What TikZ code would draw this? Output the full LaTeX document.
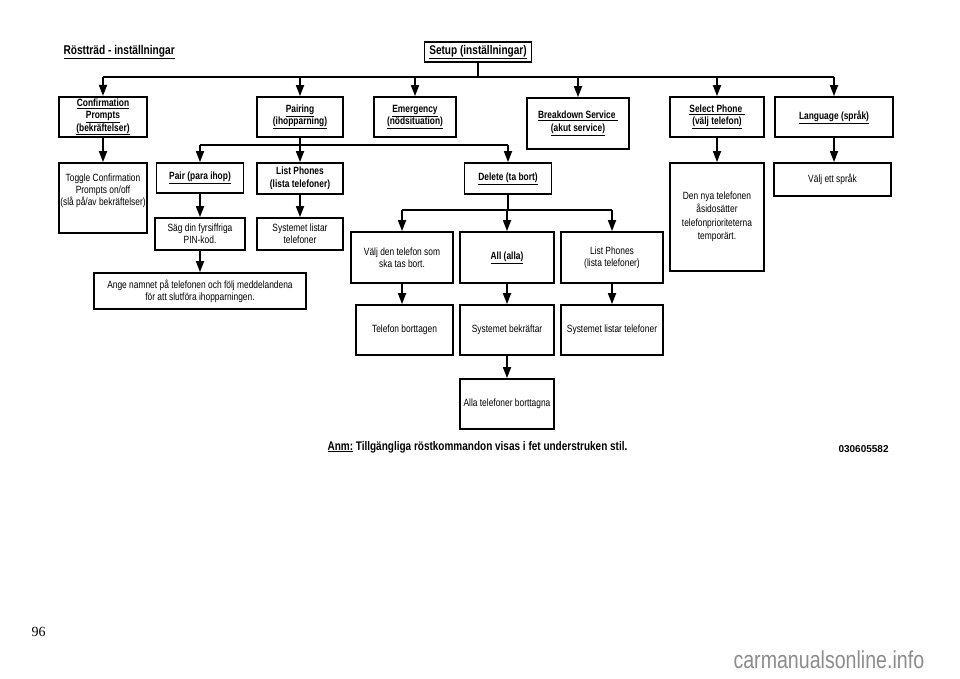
\documentclass[tikz,border=0pt]{standalone}
\usepackage{fontspec}
\setmainfont{Liberation Sans}[FakeStretch=0.8]
\newfontfamily\plainsans{Liberation Sans}
\newfontfamily\pagefont{Liberation Serif}
\usetikzlibrary{arrows.meta}

\tikzset{
	box/.style = {draw, line width = 1.8pt, inner sep = 2pt, align = center,
		font = \fontsize{10.5}{12}\selectfont},
	cmd/.style = {box, font = \fontsize{10.5}{12.5}\selectfont\bfseries},
	link/.style = {line width = 1.7pt},
	arr/.style = {link, -{Triangle[length = 11pt, width = 8pt]}}
}

\begin{document}
\begin{tikzpicture}[x = 1pt, y = -1pt]
				%	page size
				\useasboundingbox (0, 0) rectangle (960, 678);
				
				%	heading
				\node[anchor = west, font = \fontsize{12.7}{15}\selectfont\bfseries] (title) at (60, 52) {\underline{Röstträd - inställningar}};
				\node[cmd, minimum width = 107, minimum height = 20, font = \fontsize{12.6}{15}\selectfont\bfseries] (setup) at (478, 52) {\underline{Setup (inställningar)}};
				
				%	first level
				\node[cmd, minimum width = 88, minimum height = 40, font = \fontsize{10.5}{12.3}\selectfont\bfseries] (confirm) at (103, 117) {\underline{Confirmation}\\\underline{Prompts}\\\underline{(bekräftelser)}};
				\node[cmd, minimum width = 86, minimum height = 40] (pairing) at (300, 117) {\underline{Pairing}\\\underline{(ihopparning)}};
				\node[cmd, minimum width = 82, minimum height = 40] (emergency) at (415, 117) {\underline{Emergency}\\\underline{(nödsituation)}};
				\node[cmd, minimum width = 102, minimum height = 51] (breakdown) at (578, 123.5) {\underline{Breakdown Service\ }\\\underline{(akut service)}};
				\node[cmd, minimum width = 94, minimum height = 40] (selphone) at (717, 117) {\underline{Select Phone\ }\\\underline{(välj telefon)}};
				\node[cmd, minimum width = 118, minimum height = 40] (language) at (834, 117) {\underline{Language (språk)}};
				
				%	bus from setup
				\coordinate (topbus) at (478, 77);
				\draw[link] (setup.south) -- (topbus);
				\draw[link] (confirm.north |- topbus) -- (language.north |- topbus);
				\foreach \n in {confirm, pairing, emergency, breakdown, selphone, language}
					\draw[arr] (\n.north |- topbus) -- (\n.north);
				
				%	confirmation prompts
				\node[box, minimum width = 88, minimum height = 70] (toggle) at (103, 198) {};
				\node[anchor = north, align = center, font = \fontsize{10.5}{12}\selectfont] (togtext) at ([yshift = -8pt]toggle.north) {Toggle Confirmation\\Prompts on/off\\(slå på/av bekräftelser)};
				\draw[arr] (confirm.south) -- (toggle.north);
				
				%	pairing
				\node[cmd, minimum width = 87, minimum height = 30] (pair) at (200, 178) {\underline{Pair (para ihop)}};
				\node[cmd, minimum width = 86, minimum height = 31] (listph) at (300, 178.5) {List Phones\\(lista telefoner)};
				\node[cmd, minimum width = 87, minimum height = 31] (delete) at (508, 178.5) {\underline{Delete (ta bort)}};
				\coordinate (pairbus) at (300, 145);
				\draw[link] (pairing.south) -- (pairbus);
				\draw[link] (pair.north |- pairbus) -- (delete.north |- pairbus);
				\foreach \n in {pair, listph, delete}
					\draw[arr] (\n.north |- pairbus) -- (\n.north);
				
				\node[box, minimum width = 90, minimum height = 32] (pin) at (200, 234) {Säg din fyrsiffriga\\PIN-kod.};
				\node[box, minimum width = 86, minimum height = 32] (sysph) at (300, 234) {Systemet listar\\telefoner};
				\node[box, minimum width = 212, minimum height = 36] (namebox) at (200, 291) {Ange namnet på telefonen och följ meddelandena\\för att slutföra ihopparningen.};
				\draw[arr] (pair.south) -- (pin.north);
				\draw[arr] (listph.south) -- (sysph.north);
				\draw[arr] (pin.south) -- (namebox.north);
				
				%	delete
				\node[box, minimum width = 102, minimum height = 51] (choose) at (402, 257.5) {Välj den telefon som\\ska tas bort.};
				\node[cmd, minimum width = 94, minimum height = 51] (all) at (507, 257.5) {\underline{All (alla)}};
				\node[box, minimum width = 102, minimum height = 51] (listdel) at (612, 257.5) {List Phones\\(lista telefoner)};
				\coordinate (delbus) at (508, 210);
				\draw[link] (delete.south) -- (delbus);
				\draw[link] (choose.north |- delbus) -- (listdel.north |- delbus);
				\foreach \n in {choose, all, listdel}
					\draw[arr] (\n.north |- delbus) -- (\n.north);
				
				\node[box, minimum width = 97, minimum height = 50] (removed) at (404.5, 330) {Telefon borttagen};
				\node[box, minimum width = 94, minimum height = 50] (confirmed) at (507, 330) {Systemet bekräftar};
				\node[box, minimum width = 102, minimum height = 50] (listed) at (612, 330) {Systemet listar telefoner};
				\node[box, minimum width = 94, minimum height = 50] (allremoved) at (507, 404) {Alla telefoner borttagna};
				\draw[arr] (choose.south) -- (choose.south |- removed.north);
				\draw[arr] (all.south) -- (confirmed.north);
				\draw[arr] (listdel.south) -- (listed.north);
				\draw[arr] (confirmed.south) -- (allremoved.north);
				
				%	select phone, language
				\node[box, minimum width = 94, minimum height = 108, font = \fontsize{10.5}{13.5}\selectfont] (newphone) at (717, 217) {Den nya telefonen\\åsidosätter\\telefonprioriteterna\\temporärt.};
				\node[box, minimum width = 117, minimum height = 33] (chooselang) at (832.5, 179.5) {Välj ett språk};
				\draw[arr] (selphone.south) -- (newphone.north);
				\draw[arr] (language.south) -- (language.south |- chooselang.north);
				
				%	notes
				\node[anchor = west, font = \fontsize{12.5}{15}\selectfont\bfseries] (note) at (324, 447) {\underline{Anm:} Tillgängliga röstkommandon visas i fet understruken stil.};
				\node[anchor = west, font = \plainsans\fontsize{10}{12}\selectfont\bfseries] (code) at (835, 449) {030605582};
				\node[anchor = west, font = \pagefont\fontsize{14}{16}\selectfont] (page) at (28, 632) {96};
				\node[anchor = west, text = black!45, font = \fontsize{24.5}{28}\selectfont] (mark) at (730, 660) {carmanualsonline.info};
\end{tikzpicture}
\end{document}
